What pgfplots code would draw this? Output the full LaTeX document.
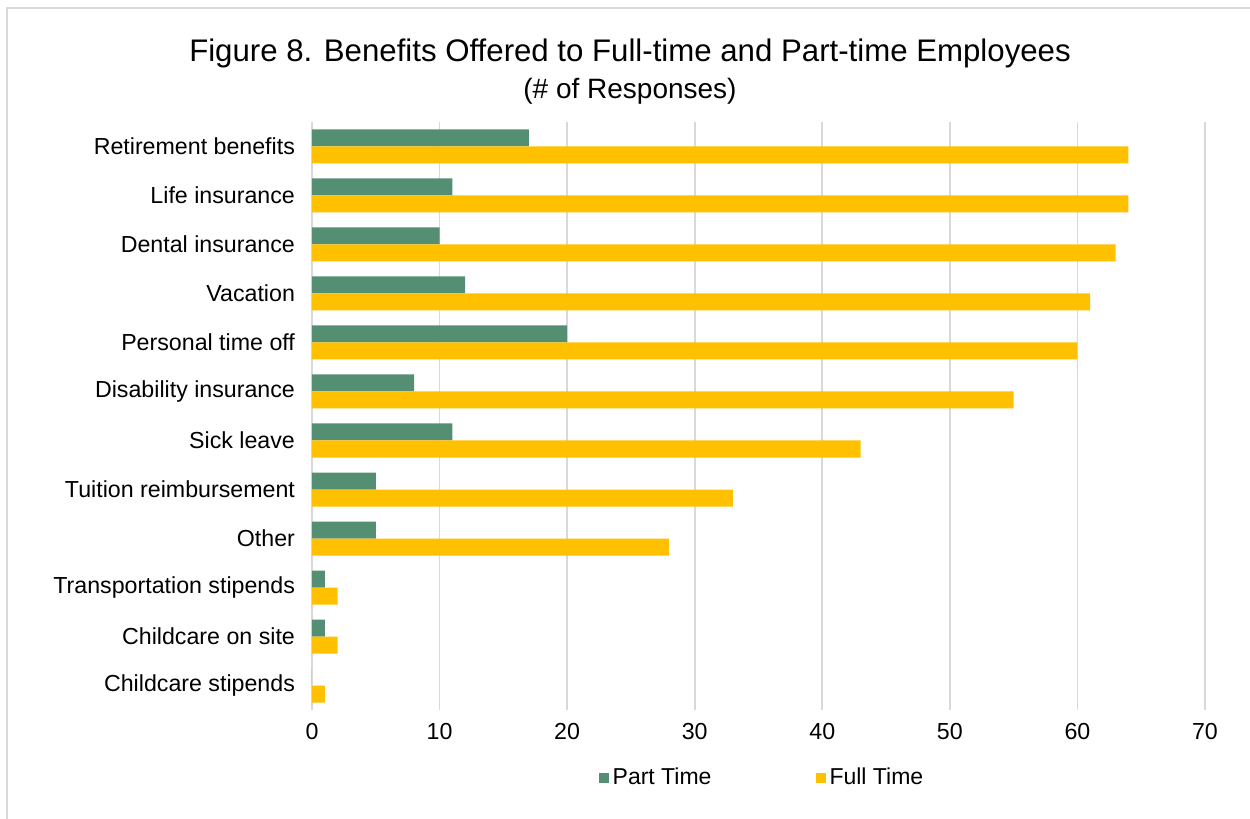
\documentclass[border=0pt]{standalone}
\usepackage{pgfplots}
\pgfplotsset{compat=1.18}
\usepackage{fontspec}
\setmainfont{Liberation Sans}
\definecolor{ptgreen}{HTML}{548F74}
\definecolor{ftyellow}{HTML}{FFC000}
\definecolor{gridgray}{HTML}{D9D9D9}
\begin{document}
\begin{tikzpicture}
\useasboundingbox (0pt,0pt) rectangle (625pt,409.5pt);
\draw[gridgray,line width=1.2pt] (3.5pt,0pt) -- (3.5pt,405.5pt) -- (625pt,405.5pt);
\node[font=\fontsize{15.6}{17}\selectfont] at (315pt,383pt) {Figure 8. Benefits Offered to Full-time and Part-time Employees};
\node[font=\fontsize{14}{16}\selectfont] at (315pt,364pt) {(\# of Responses)};
\begin{axis}[
  at={(156pt,54.5pt)}, anchor=south west,
  scale only axis, width=446.5pt, height=294pt,
  xbar, bar width=8.5pt,
  xmin=0, xmax=70, ymin=-0.5, ymax=11.5,
  y dir=reverse,
  ytick={0,...,11},
  yticklabels={Retirement benefits,Life insurance,Dental insurance,Vacation,Personal time off,Disability insurance,Sick leave,Tuition reimbursement,Other,Transportation stipends,Childcare on site,Childcare stipends},
  xtick={0,10,...,70},
  axis line style={draw=none},
  major tick length=0pt,
  xmajorgrids, grid style={gridgray,line width=0.8pt},
  tick label style={font=\fontsize{11.6}{13}\selectfont},
  /pgf/number format/assume math mode=true,
  yticklabel style={xshift=-5pt},
  xticklabel style={yshift=-3pt},
  legend style={at={(0.505,-0.1156)}, anchor=center, draw=none, legend columns=2,
    font=\fontsize{11.5}{13}\selectfont, /tikz/every even column/.append style={column sep=50pt}},
  legend image code/.code={\fill[#1] (0pt,-2.5pt) rectangle (5pt,2.5pt);},
]
\addplot[fill=ptgreen, draw=none, bar shift=4.25pt] coordinates {(17,0) (11,1) (10,2) (12,3) (20,4) (8,5) (11,6) (5,7) (5,8) (1,9) (1,10) (0,11)};
\addplot[fill=ftyellow, draw=none, bar shift=-4.25pt] coordinates {(64,0) (64,1) (63,2) (61,3) (60,4) (55,5) (43,6) (33,7) (28,8) (2,9) (2,10) (1,11)};
\legend{Part Time, Full Time}
\end{axis}
\end{tikzpicture}
\end{document}
